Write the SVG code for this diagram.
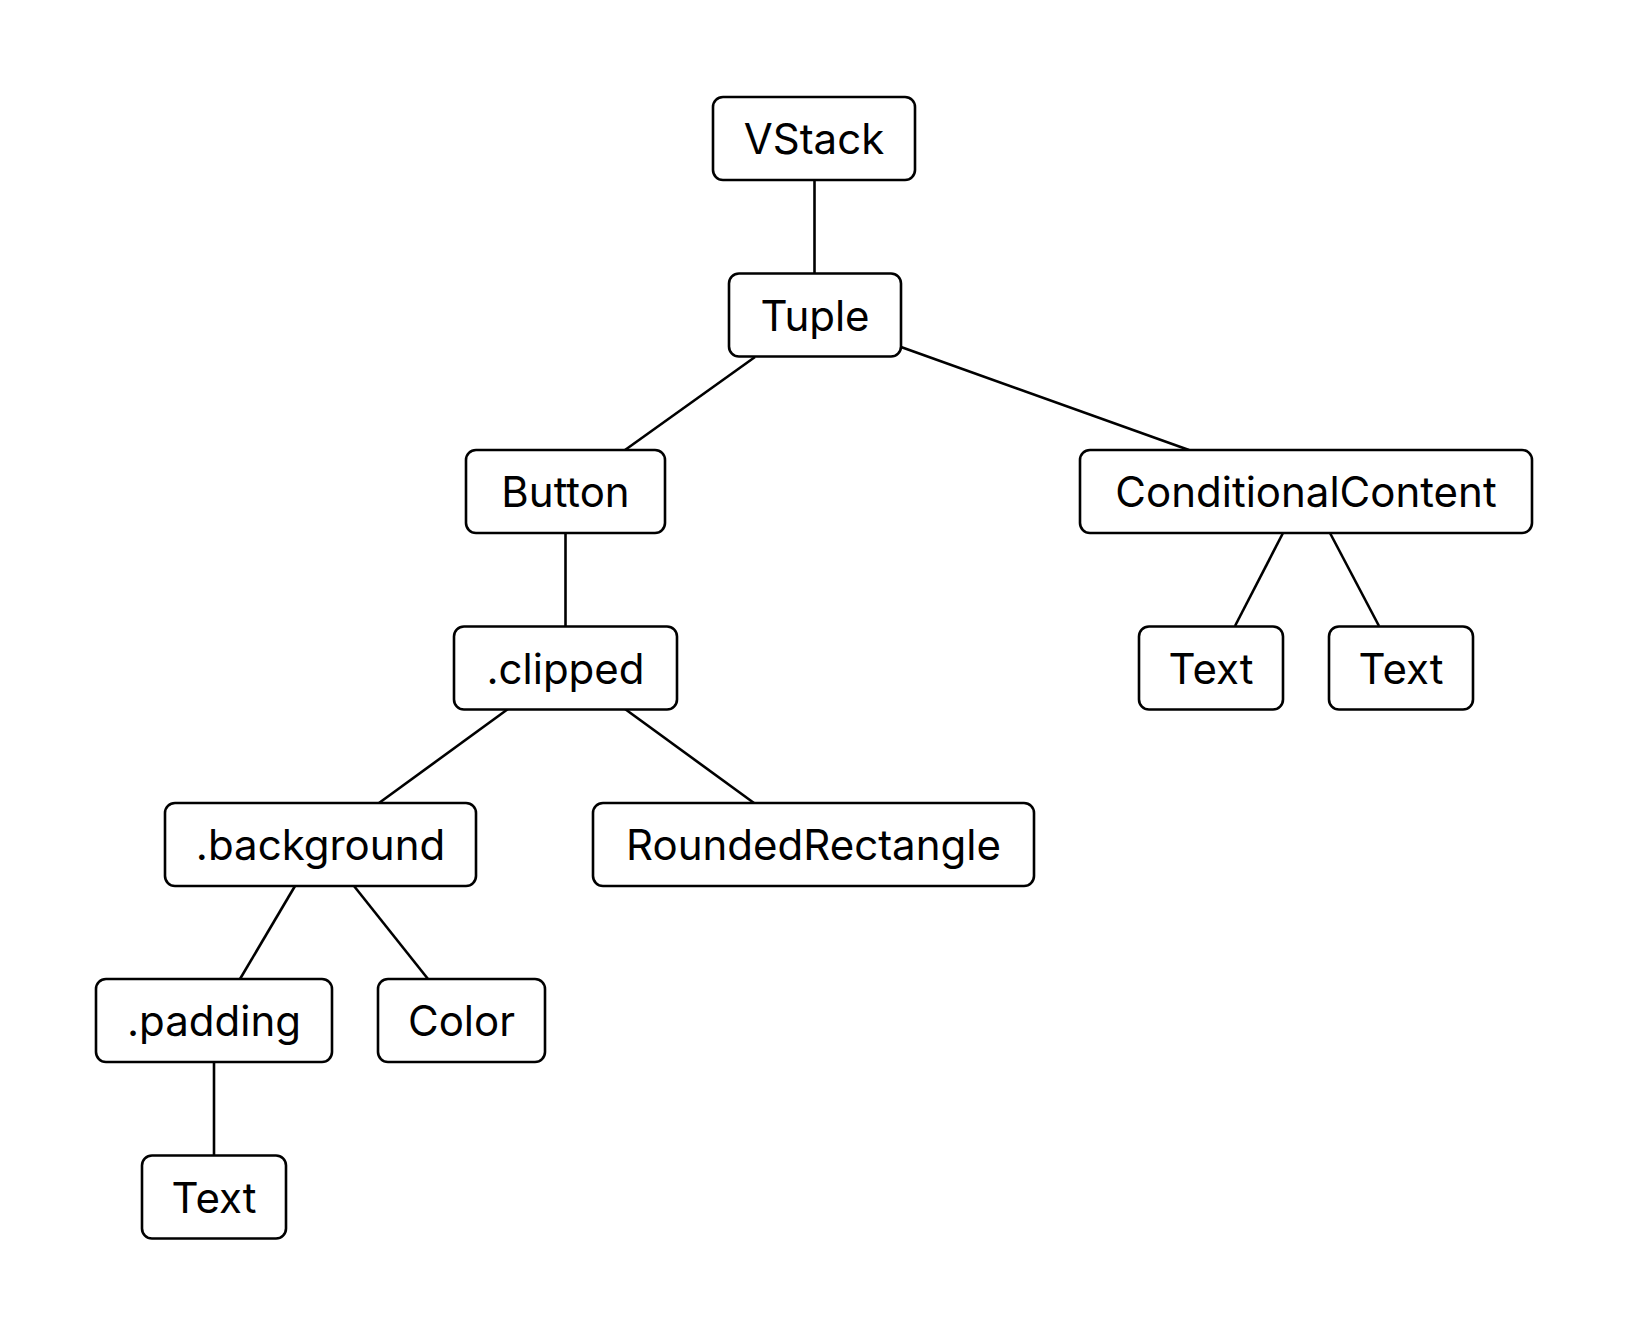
<svg xmlns="http://www.w3.org/2000/svg" width="1648" height="1342" viewBox="0 0 1648 1342">
<style>
.n rect{fill:#fff;stroke:#000;stroke-width:2.6}
.n text{font-family:Inter,"Noto Sans","Liberation Sans",sans-serif;font-size:42px;fill:#000;text-anchor:middle}
#edges line{stroke:#000;stroke-width:2.6}
</style>
<rect width="1648" height="1342" fill="#fff"/>
<g id="edges">
<line x1="814.5" y1="181" x2="814.5" y2="273"/>
<line x1="755" y1="357" x2="625" y2="450"/>
<line x1="901" y1="347" x2="1189" y2="450"/>
<line x1="565.5" y1="533" x2="565.5" y2="626"/>
<line x1="508" y1="709" x2="379" y2="803"/>
<line x1="625" y1="709" x2="754" y2="803"/>
<line x1="295" y1="886" x2="240" y2="979"/>
<line x1="354" y1="886" x2="428" y2="979"/>
<line x1="214" y1="1062" x2="214" y2="1155"/>
<line x1="1283" y1="533" x2="1235" y2="626"/>
<line x1="1330" y1="533" x2="1379" y2="626"/>
</g>
<g id="vstack" class="n"><rect x="713" y="97" width="202" height="83" rx="10"/><text x="814" y="154">VStack</text></g>
<g id="tuple" class="n"><rect x="729" y="273.5" width="172" height="83" rx="10"/><text x="815" y="330.5">Tuple</text></g>
<g id="button" class="n"><rect x="466" y="450" width="199" height="83" rx="10"/><text x="565.5" y="507">Button</text></g>
<g id="conditional" class="n"><rect x="1080" y="450" width="452" height="83" rx="10"/><text x="1306" y="507">ConditionalContent</text></g>
<g id="clipped" class="n"><rect x="454" y="626.5" width="223" height="83" rx="10"/><text x="565.5" y="683.5">.clipped</text></g>
<g id="text1" class="n"><rect x="1139" y="626.5" width="144" height="83" rx="10"/><text x="1211" y="683.5">Text</text></g>
<g id="text2" class="n"><rect x="1329" y="626.5" width="144" height="83" rx="10"/><text x="1401" y="683.5">Text</text></g>
<g id="background" class="n"><rect x="165" y="803" width="311" height="83" rx="10"/><text x="320.5" y="860">.background</text></g>
<g id="rounded" class="n"><rect x="593" y="803" width="441" height="83" rx="10"/><text x="813.5" y="860">RoundedRectangle</text></g>
<g id="padding" class="n"><rect x="96" y="979" width="236" height="83" rx="10"/><text x="214" y="1036">.padding</text></g>
<g id="color" class="n"><rect x="378" y="979" width="167" height="83" rx="10"/><text x="461.5" y="1036">Color</text></g>
<g id="text3" class="n"><rect x="142" y="1155.5" width="144" height="83" rx="10"/><text x="214" y="1212.5">Text</text></g>
</svg>
